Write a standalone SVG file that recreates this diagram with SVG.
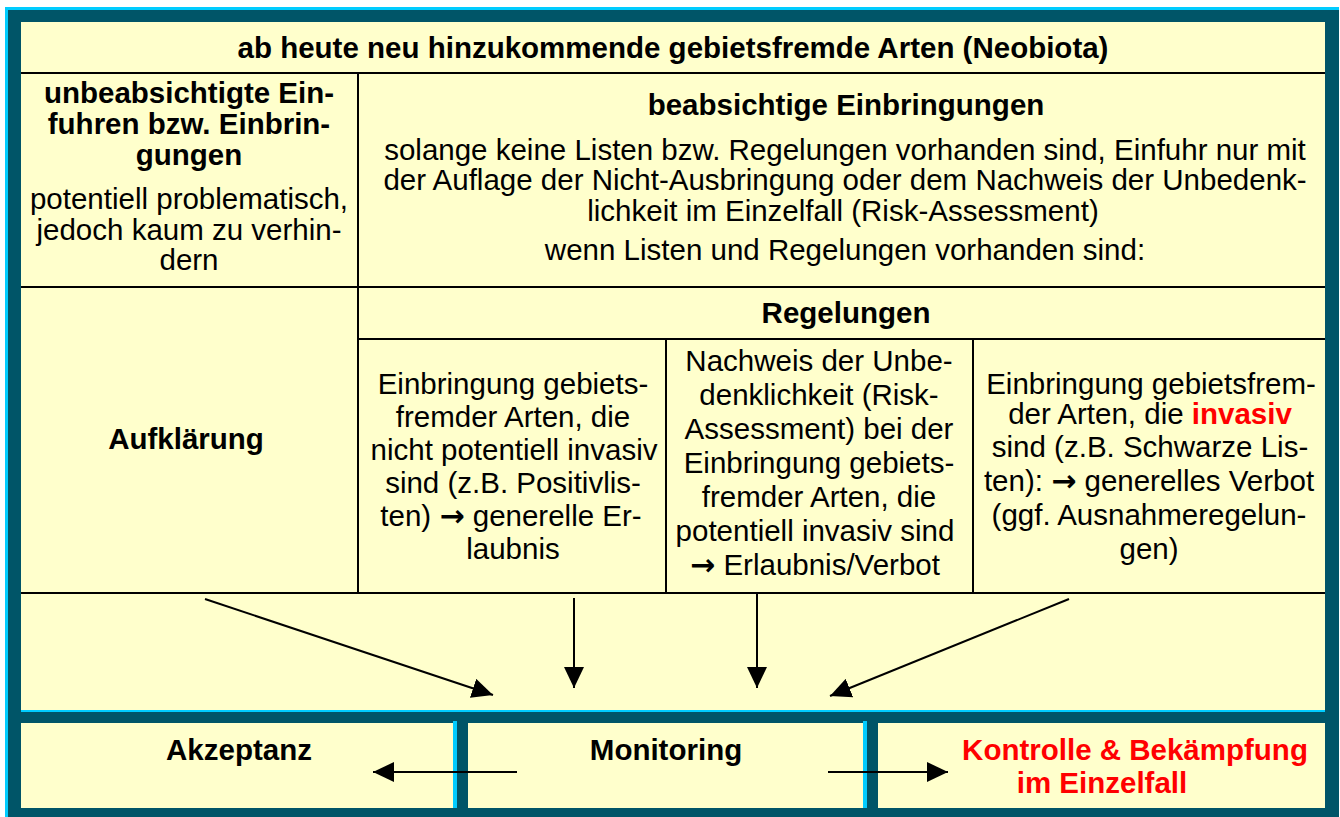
<svg xmlns="http://www.w3.org/2000/svg" width="1340" height="817" viewBox="0 0 1340 817">
<style>
text{font-family:"Liberation Sans",Arial,sans-serif;font-size:29.5px;fill:#000;text-anchor:middle}
.b{font-weight:bold}
.red{fill:#FF0000}
.arr{font-family:"DejaVu Sans",sans-serif;font-weight:bold;font-size:30px}
.grid{stroke:#000;stroke-width:2;fill:none}
.conn{stroke:#000;stroke-width:2;fill:none}
.cell{fill:#FFFFCC}
</style>
<defs>
<marker id="ah" viewBox="0 0 21 20" refX="21" refY="10" markerWidth="21" markerHeight="20" markerUnits="userSpaceOnUse" orient="auto">
<path d="M0,0 L21,10 L0,20 z" fill="#000"/>
</marker>
</defs>
<rect x="0" y="0" width="1340" height="817" fill="#FFFFFF"/>
<g id="frame">
<rect x="5" y="7" width="1334" height="810" fill="#00CCFF"/>
<rect x="8" y="10" width="1331" height="807" fill="#005568"/>
<rect class="cell" x="21" y="22" width="1304" height="688"/>
<rect x="21" y="710" width="1304" height="2" fill="#00CCFF"/>
</g>
<g id="table-grid">
<line class="grid" x1="21" y1="73" x2="1325" y2="73"/>
<line class="grid" x1="358" y1="73" x2="358" y2="593"/>
<line class="grid" x1="21" y1="287" x2="1325" y2="287"/>
<line class="grid" x1="358" y1="339" x2="1325" y2="339"/>
<line class="grid" x1="666" y1="339" x2="666" y2="593"/>
<line class="grid" x1="973" y1="339" x2="973" y2="593"/>
<line class="grid" x1="21" y1="593" x2="1325" y2="593"/>
</g>
<g id="title">
<text class="b" x="673" y="58">ab heute neu hinzukommende gebietsfremde Arten (Neobiota)</text>
</g>
<g id="unbeabsichtigt">
<text class="b" x="189" y="103">unbeabsichtigte Ein-</text>
<text class="b" x="189" y="134">fuhren bzw. Einbrin-</text>
<text class="b" x="189" y="165">gungen</text>
<text x="189" y="209">potentiell problematisch,</text>
<text x="189" y="240">jedoch kaum zu verhin-</text>
<text x="189" y="270">dern</text>
</g>
<g id="beabsichtigt">
<text class="b" x="846" y="115">beabsichtige Einbringungen</text>
<text x="845" y="160">solange keine Listen bzw. Regelungen vorhanden sind, Einfuhr nur mit</text>
<text x="845" y="190">der Auflage der Nicht-Ausbringung oder dem Nachweis der Unbedenk-</text>
<text x="843" y="221">lichkeit im Einzelfall (Risk-Assessment)</text>
<text x="845" y="260">wenn Listen und Regelungen vorhanden sind:</text>
</g>
<g id="aufklaerung">
<text class="b" x="186" y="449">Aufklärung</text>
</g>
<g id="regelungen">
<text class="b" x="846" y="323">Regelungen</text>
</g>
<g id="positiv">
<text x="513" y="394">Einbringung gebiets-</text>
<text x="513" y="427">fremder Arten, die</text>
<text x="514" y="460">nicht potentiell invasiv</text>
<text x="513" y="493">sind (z.B. Positivlis-</text>
<text x="511" y="526">ten) <tspan class="arr">→</tspan> generelle Er-</text>
<text x="513" y="559">laubnis</text>
</g>
<g id="risk">
<text x="819" y="371">Nachweis der Unbe-</text>
<text x="819" y="405">denklichkeit (Risk-</text>
<text x="819" y="439">Assessment) bei der</text>
<text x="819" y="473">Einbringung gebiets-</text>
<text x="819" y="507">fremder Arten, die</text>
<text x="815" y="541">potentiell invasiv sind</text>
<text x="815" y="575"><tspan class="arr">→</tspan> Erlaubnis/Verbot</text>
</g>
<g id="invasiv">
<text x="1151" y="394">Einbringung gebietsfrem-</text>
<text x="1150" y="424">der Arten, die <tspan class="b red">invasiv</tspan></text>
<text x="1150" y="457">sind (z.B. Schwarze Lis-</text>
<text x="1149" y="491">ten): <tspan class="arr">→</tspan> generelles Verbot</text>
<text x="1149" y="525">(ggf. Ausnahmeregelun-</text>
<text x="1149" y="559">gen)</text>
</g>
<g id="akzeptanz">
<rect x="8" y="712" width="461" height="105" fill="#005568"/>
<rect class="cell" x="21" y="723" width="432" height="85"/>
<rect x="453" y="721" width="4" height="87" fill="#00CCFF"/>
<text class="b" x="239" y="760">Akzeptanz</text>
</g>
<g id="monitoring">
<rect x="457" y="712" width="421" height="105" fill="#005568"/>
<rect class="cell" x="468" y="723" width="395" height="85"/>
<rect x="863" y="721" width="4" height="87" fill="#00CCFF"/>
<text class="b" x="666" y="760">Monitoring</text>
</g>
<g id="kontrolle">
<rect x="867" y="712" width="472" height="105" fill="#005568"/>
<rect class="cell" x="878" y="723" width="447" height="85"/>
<text class="b red" x="1135" y="760">Kontrolle &amp; Bekämpfung</text>
<text class="b red" x="1102" y="793">im Einzelfall</text>
</g>
<g id="connectors">
<line class="conn" x1="205" y1="599" x2="493" y2="695" marker-end="url(#ah)"/>
<line class="conn" x1="574" y1="598" x2="574" y2="688" marker-end="url(#ah)"/>
<line class="conn" x1="757" y1="594" x2="757" y2="688" marker-end="url(#ah)"/>
<line class="conn" x1="1069" y1="599" x2="830" y2="696" marker-end="url(#ah)"/>
<line class="conn" x1="517" y1="772" x2="373" y2="772" marker-end="url(#ah)"/>
<line class="conn" x1="828" y1="772" x2="948" y2="772" marker-end="url(#ah)"/>
</g>
</svg>
